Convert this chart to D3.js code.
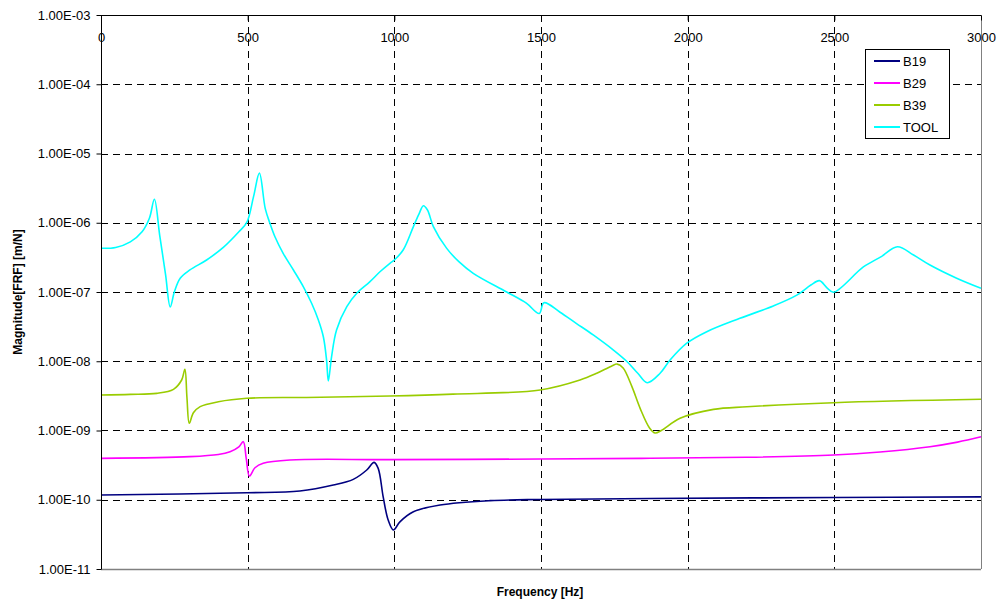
<!DOCTYPE html>
<html><head><meta charset="utf-8">
<script src="https://cdn.jsdelivr.net/npm/d3@7"></script>
<style>body{margin:0;background:#fff}svg{display:block;font-family:"Liberation Sans",Arial,sans-serif}</style>
</head><body><svg id="c" width="1003" height="605"></svg>
<script>
const seriesNames = ["B19", "B29", "B39", "TOOL"];
const seriesColors = ["#000080", "#FF00FF", "#99CC00", "#00FFFF"];
const xTicks = [0, 500, 1000, 1500, 2000, 2500, 3000];
const yTicks = [1e-3, 1e-4, 1e-5, 1e-6, 1e-7, 1e-8, 1e-9, 1e-10, 1e-11];
const yTickLabels = ["1.00E-03","1.00E-04","1.00E-05","1.00E-06","1.00E-07","1.00E-08","1.00E-09","1.00E-10","1.00E-11"];

const b19F = [0, 497, 678, 792, 860, 906, 931, 945, 962, 979, 997, 1019, 1065, 1156, 1326, 1497, 1872, 2500, 3000];
const b19V = [1.17e-10, 1.26e-10, 1.34e-10, 1.63e-10, 1.97e-10, 2.69e-10, 3.47e-10, 2.84e-10, 1.1e-10, 5.1e-11, 3.66e-11, 4.8e-11, 6.7e-11, 8.4e-11, 9.7e-11, 1.01e-10, 1.04e-10, 1.08e-10, 1.1e-10];

const b29F = [0, 303, 400, 440, 470, 485, 495, 506, 525, 553, 644, 985, 1497, 1872, 2200, 2497, 2656, 2826, 2920, 3000];
const b29V = [3.96e-10, 4.19e-10, 4.5e-10, 4.94e-10, 5.8e-10, 6.9e-10, 4.0e-10, 2.2e-10, 2.9e-10, 3.36e-10, 3.75e-10, 3.8e-10, 3.87e-10, 3.97e-10, 4.1e-10, 4.42e-10, 4.9e-10, 5.84e-10, 6.8e-10, 8.1e-10];

const b39F = [0, 100, 190, 247, 275, 286, 293, 301, 315, 338, 400, 497, 700, 985, 1200, 1497, 1633, 1690, 1740, 1760, 1780, 1810, 1838, 1870, 1889, 1910, 1974, 2088, 2202, 2497, 3000];
const b39V = [3.26e-9, 3.32e-9, 3.44e-9, 3.93e-9, 5.36e-9, 7.65e-9, 3.0e-9, 1.27e-9, 1.8e-9, 2.21e-9, 2.6e-9, 2.92e-9, 3.0e-9, 3.15e-9, 3.35e-9, 3.85e-9, 5.36e-9, 6.7e-9, 8.5e-9, 9.1e-9, 8.0e-9, 4.3e-9, 2.09e-9, 1.09e-9, 9.2e-10, 1.0e-9, 1.5e-9, 2.02e-9, 2.2e-9, 2.52e-9, 2.82e-9];

const toolF = [0, 50, 100, 140, 165, 182, 200, 220, 236, 250, 270, 303, 360, 417, 470, 497, 520, 540, 560, 576, 593, 621, 656, 690, 718, 741, 758, 769, 775, 786, 803, 838, 872, 917, 951, 985, 1000, 1030, 1065, 1085, 1099, 1113, 1133, 1178, 1220, 1269, 1383, 1450, 1494, 1510, 1565, 1620, 1678, 1747, 1792, 1830, 1862, 1906, 1940, 1997, 2065, 2178, 2292, 2372, 2420, 2449, 2475, 2497, 2599, 2660, 2715, 2770, 2826, 2917, 3000];
const toolV = [4.28e-7, 4.4e-7, 5.3e-7, 7.4e-7, 1.16e-6, 2.18e-6, 6.65e-7, 1.8e-7, 6.1e-8, 1.0e-7, 1.58e-7, 2.08e-7, 2.9e-7, 4.4e-7, 7.4e-7, 1.01e-6, 2.38e-6, 5.2e-6, 1.6e-6, 9.8e-7, 6.28e-7, 3.62e-7, 2.08e-7, 1.19e-7, 6.87e-8, 3.94e-8, 2.26e-8, 1.04e-8, 5.2e-9, 1.16e-8, 2.83e-8, 6.14e-8, 9.57e-8, 1.41e-7, 1.96e-7, 2.6e-7, 2.9e-7, 4.04e-7, 8.8e-7, 1.37e-6, 1.76e-6, 1.53e-6, 8.8e-7, 4.3e-7, 2.74e-7, 1.86e-7, 1.0e-7, 6.9e-8, 4.9e-8, 7.0e-8, 5.1e-8, 3.53e-8, 2.4e-8, 1.45e-8, 1.0e-8, 6.7e-9, 4.9e-9, 6.7e-9, 1.04e-8, 1.82e-8, 2.67e-8, 4.17e-8, 6.28e-8, 9.0e-8, 1.26e-7, 1.46e-7, 1.15e-7, 9.9e-8, 2.3e-7, 3.24e-7, 4.5e-7, 3.42e-7, 2.45e-7, 1.58e-7, 1.13e-7];

const allF = [b19F, b29F, b39F, toolF];
const allV = [b19V, b29V, b39V, toolV];

const L = 101, R = 981, T = 15, B = 569;
const svg = d3.select("#c");
const x = d3.scaleLinear().domain([0, 3000]).range([L, R]);
const y = d3.scaleLog().domain([1e-11, 1e-3]).range([B, T]);

// grid
const g = svg.append("g");
g.selectAll("line.h").data(yTicks.slice(1, -1)).enter().append("line")
  .attr("x1", L).attr("x2", R).attr("y1", d => Math.round(y(d)) + 0.5).attr("y2", d => Math.round(y(d)) + 0.5)
  .attr("stroke", "#000").attr("stroke-width", 1).attr("stroke-dasharray", "7,5");
g.selectAll("line.v").data(xTicks.slice(1, -1)).enter().append("line")
  .attr("y1", T).attr("y2", B).attr("x1", d => Math.round(x(d)) + 0.5).attr("x2", d => Math.round(x(d)) + 0.5)
  .attr("stroke", "#000").attr("stroke-width", 1).attr("stroke-dasharray", "7,5");

// right and bottom borders (grey)
svg.append("line").attr("x1", R + 0.5).attr("x2", R + 0.5).attr("y1", T).attr("y2", B).attr("stroke", "#808080");
svg.append("line").attr("x1", L).attr("x2", R).attr("y1", B + 0.5).attr("y2", B + 0.5).attr("stroke", "#808080").attr("stroke-width", 1.5);

// series
const line = d3.line().x(d => x(d[0])).y(d => y(d[1])).curve(d3.curveCatmullRom.alpha(0.5));
allF.forEach((fs, i) => {
  const pts = fs.map((f, j) => [f, allV[i][j]]);
  svg.append("path").attr("d", line(pts)).attr("fill", "none")
    .attr("stroke", seriesColors[i]).attr("stroke-width", 1.6);
});

// y axis
const yAxis = d3.axisLeft(y).tickValues(yTicks).tickFormat((d, i) => yTickLabels[i]).tickSize(5).tickPadding(6);
const ya = svg.append("g").attr("transform", `translate(${L + 0.5},0)`).call(yAxis);
ya.select(".domain").attr("stroke", "#000").attr("d", `M0,${T}V${B}`);
ya.selectAll("text").attr("font-size", 13).attr("font-family", "Liberation Sans, Arial, sans-serif").attr("fill", "#000");

// x axis at top, labels inside below
const xAxis = d3.axisBottom(x).tickValues(xTicks).tickFormat(d3.format("d")).tickSize(5).tickPadding(12);
const xa = svg.append("g").attr("transform", `translate(0,${T + 0.5})`).call(xAxis);
xa.select(".domain").attr("stroke", "#000").attr("d", `M${L},0H${R}`);
xa.selectAll("text").attr("font-size", 13).attr("font-family", "Liberation Sans, Arial, sans-serif").attr("fill", "#000");
xa.selectAll(".tick line").attr("stroke", "#000");

// titles
svg.append("text").attr("x", 540).attr("y", 596).attr("text-anchor", "middle")
  .attr("font-size", 12).attr("font-weight", "bold").text("Frequency [Hz]");
svg.append("text").attr("transform", `translate(22,${(T + B) / 2}) rotate(-90)`).attr("text-anchor", "middle")
  .attr("font-size", 12).attr("font-weight", "bold").text("Magnitude[FRF] [m/N]");

// legend
const lg = svg.append("g");
lg.append("rect").attr("x", 865.5).attr("y", 49.5).attr("width", 84).attr("height", 89)
  .attr("fill", "#fff").attr("stroke", "#000").attr("stroke-width", 1);
seriesNames.forEach((n, i) => {
  const yy = 61 + i * 22;
  lg.append("line").attr("x1", 874).attr("x2", 900).attr("y1", yy).attr("y2", yy)
    .attr("stroke", seriesColors[i]).attr("stroke-width", 2);
  lg.append("text").attr("x", 903).attr("y", yy + 5).attr("font-size", 13).text(n);
});
</script></body></html>
